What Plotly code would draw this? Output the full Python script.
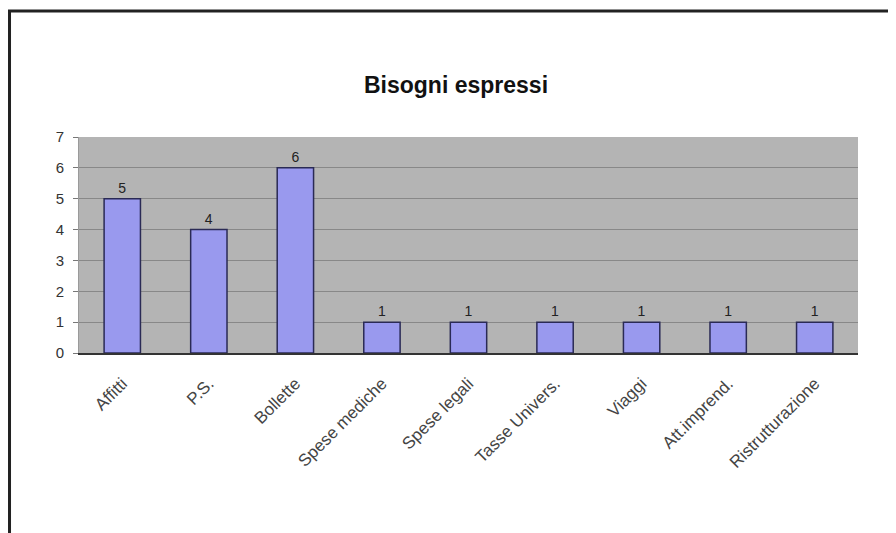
import plotly.graph_objects as go

categories = ["Affitti", "P.S.", "Bollette", "Spese mediche", "Spese legali",
              "Tasse Univers.", "Viaggi", "Att.imprend.", "Ristrutturazione"]
values = [5, 4, 6, 1, 1, 1, 1, 1, 1]
y_ticks = [0, 1, 2, 3, 4, 5, 6, 7]

fig = go.Figure()

fig.add_trace(go.Bar(
    x=categories,
    y=values,
    text=values,
    textposition='outside',
    textfont=dict(family='Arial', size=14, color='#222222'),
    marker=dict(color='#9999ee', line=dict(color='#2a2a55', width=1.5)),
    width=0.42,
    cliponaxis=False
))

# the page has an 8px body margin, so offsets are reduced by 8
fig.update_layout(
    width=896,
    height=533,
    margin=dict(l=71, r=46, t=129, b=188),
    paper_bgcolor='white',
    plot_bgcolor='#b4b4b4',
    showlegend=False,
    title=dict(text="<b>Bisogni espressi</b>", x=0.5, xanchor='center',
               y=1 - 77 / 533, yanchor='middle',
               font=dict(family='Arial', size=23, color='#111111')),
    font=dict(family='Arial', color='#333333'),
    bargap=0.58
)

fig.update_yaxes(
    range=[0, 7],
    tickvals=y_ticks,
    tickfont=dict(size=15, color='#333333'),
    showgrid=True,
    gridcolor='#888888',
    gridwidth=1,
    zeroline=False,
    showline=True,
    linecolor='#9a9a9a',
    ticks='outside',
    ticklen=5,
    tickcolor='#777777',
    ticklabelstandoff=6
)

fig.update_xaxes(
    tickangle=-45,
    tickfont=dict(size=17, color='#444444'),
    showline=True,
    linecolor='#333333',
    linewidth=2,
    showgrid=False,
    ticks='outside',
    ticklen=12,
    tickcolor='rgba(0,0,0,0)'
)

# outer frame of the chart area
fig.add_shape(type='rect', xref='paper', yref='paper',
              x0=-0.0892, x1=1.2, y0=-1.5, y1=1.583,
              line=dict(color='#222222', width=3), fillcolor='rgba(0,0,0,0)')

fig.write_html("out.html")
